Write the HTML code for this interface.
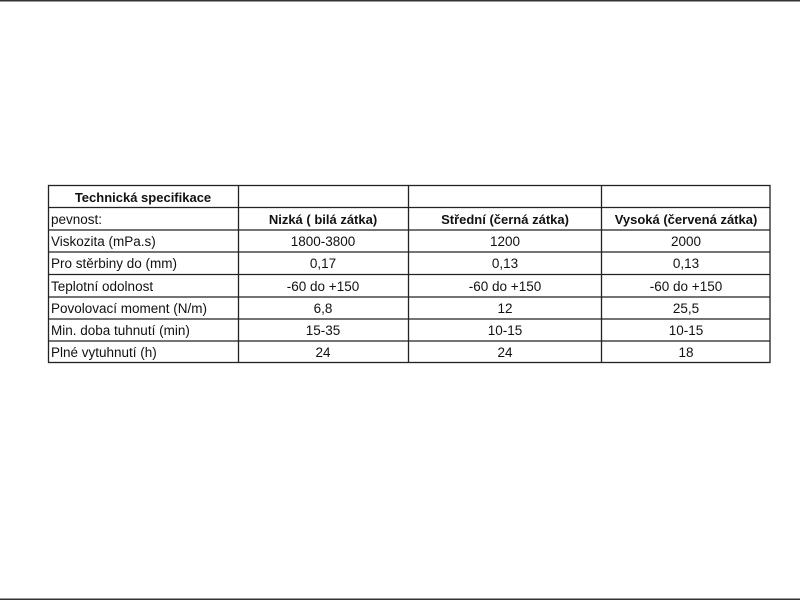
<!DOCTYPE html>
<html><head><meta charset="utf-8"><style>
html,body{margin:0;padding:0;background:#fff}
svg{display:block}
text{font-family:"Liberation Sans",sans-serif;font-size:13.5px;fill:#111}
.b{font-weight:bold;font-size:13px}
</style></head><body>
<svg width="800" height="600" viewBox="0 0 800 600">
<rect x="0" y="0" width="800" height="600" fill="#fff"/>
<rect x="0" y="0" width="800" height="1.5" fill="#333"/>
<rect x="0" y="598.5" width="800" height="1.5" fill="#333"/>
<g stroke="#222" stroke-width="1.3" fill="none">
<rect x="48.5" y="185.5" width="721.5" height="177"/>
<line x1="238.5" y1="185" x2="238.5" y2="363"/>
<line x1="408.5" y1="185" x2="408.5" y2="363"/>
<line x1="601.5" y1="185" x2="601.5" y2="363"/>
<line x1="48" y1="207.5" x2="770" y2="207.5"/>
<line x1="48" y1="230" x2="770" y2="230"/>
<line x1="48" y1="252" x2="770" y2="252"/>
<line x1="48" y1="274.5" x2="770" y2="274.5"/>
<line x1="48" y1="297" x2="770" y2="297"/>
<line x1="48" y1="319" x2="770" y2="319"/>
<line x1="48" y1="341" x2="770" y2="341"/>
</g>
<text class="b" x="143" y="202" text-anchor="middle">Technická specifikace</text>
<g>
<text x="51" y="224">pevnost:</text>
<text x="51" y="246">Viskozita (mPa.s)</text>
<text x="51" y="268">Pro stěrbiny do (mm)</text>
<text x="51" y="291">Teplotní odolnost</text>
<text x="51" y="313">Povolovací moment (N/m)</text>
<text x="51" y="335">Min. doba tuhnutí (min)</text>
<text x="51" y="357">Plné vytuhnutí  (h)</text>
</g>
<g text-anchor="middle">
<text class="b" x="323" y="224">Nizká ( bilá zátka)</text>
<text class="b" x="505" y="224">Střední (černá zátka)</text>
<text class="b" x="686" y="224">Vysoká (červená zátka)</text>
<text x="323" y="246">1800-3800</text><text x="505" y="246">1200</text><text x="686" y="246">2000</text>
<text x="323" y="268">0,17</text><text x="505" y="268">0,13</text><text x="686" y="268">0,13</text>
<text x="323" y="291">-60 do +150</text><text x="505" y="291">-60 do +150</text><text x="686" y="291">-60 do +150</text>
<text x="323" y="313">6,8</text><text x="505" y="313">12</text><text x="686" y="313">25,5</text>
<text x="323" y="335">15-35</text><text x="505" y="335">10-15</text><text x="686" y="335">10-15</text>
<text x="323" y="357">24</text><text x="505" y="357">24</text><text x="686" y="357">18</text>
</g>
</svg>
</body></html>
